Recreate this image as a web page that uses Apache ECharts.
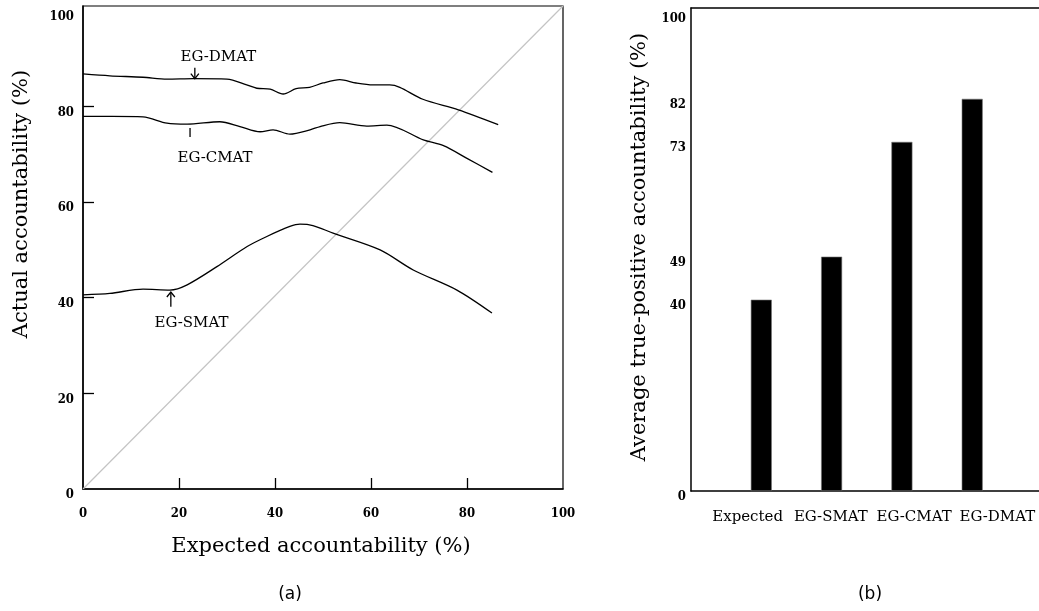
<!DOCTYPE html>
<html>
<head>
<meta charset="utf-8">
<script src="https://cdn.jsdelivr.net/npm/echarts@6/dist/echarts.min.js"></script>
<style>
html,body{margin:0;padding:0;background:#fff;}
#main{width:1039px;height:611px;}
</style>
</head>
<body>
<div id="main"></div>
<script>
// ---------- Data: chart (a) ----------
const aXTicks = [0, 20, 40, 60, 80, 100];
const aYTicks = [0, 20, 40, 60, 80, 100];
const dmatX = [0, 5.6, 12.5, 17.5, 23, 30, 34.1, 36.2, 39, 41.7, 44.4, 47.2, 50, 53.5, 56.9, 60.4, 63.9, 66, 70.8, 78.2, 86.5];
const dmatY = [86.8, 86.4, 86.1, 85.7, 85.8, 85.7, 84.5, 83.8, 83.6, 82.6, 83.7, 84.0, 84.9, 85.6, 84.9, 84.5, 84.5, 84.0, 81.5, 79.3, 76.2];
const cmatX = [0, 6, 12.5, 17.5, 21.7, 28.5, 32.7, 36.9, 39.6, 43.1, 47.3, 49.4, 53.5, 59.1, 63.3, 70.9, 75.1, 79.9, 85.3];
const cmatY = [77.9, 77.9, 77.8, 76.5, 76.3, 76.8, 75.8, 74.7, 75.1, 74.2, 75.1, 75.8, 76.6, 75.9, 76.1, 73.0, 71.8, 69.2, 66.2];
const smatX = [0, 5.6, 12.5, 18.1, 21.7, 27.9, 34.2, 38.3, 43.1, 45.2, 47.9, 52.1, 61.9, 68.8, 77.9, 85.2];
const smatY = [40.6, 40.9, 41.8, 41.6, 42.7, 46.5, 50.7, 52.8, 54.9, 55.4, 55.1, 53.5, 50.0, 45.8, 41.6, 36.8];
const aLabels = ['EG-DMAT', 'EG-CMAT', 'EG-SMAT'];
const aLabelAt = [[28.2, 90.4], [27.5, 69.2], [22.6, 34.7]];
const aPointerX = [23.3, 22.3, 18.3];
const aPointerFrom = [88.1, 75.5, 38.1];
const aPointerTo = [85.8, 73.6, 41.2];
const aPointerHead = [true, false, true];

// ---------- Data: chart (b) ----------
const bCategories = ['Expected', 'EG-SMAT', 'EG-CMAT', 'EG-DMAT'];
const bValues = [40, 49, 73, 82];
const bYTicks = [0, 40, 49, 73, 82, 100];

const AX_MIN = 0, AX_MAX = 100, AY_MIN = 0, AY_MAX = 101;

function zip(xs, ys) { return xs.map((x, i) => [x, ys[i]]); }

const serif = 'DejaVu Serif';
const tickFamily = "'DejaVu Serif Condensed', 'DejaVu Serif', serif";
const tickFont = { fontFamily: tickFamily, fontWeight: 'bold', fontSize: 13, color: '#000' };

const chart = echarts.init(document.getElementById('main'), null, { renderer: 'canvas' });

const lineStyle = { color: '#000', width: 1.3 };

const option = {
  backgroundColor: '#fff',
  animation: false,
  grid: [
    { left: 83, top: 6, width: 480, height: 483, show: true, borderColor: '#000', borderWidth: 1.2, backgroundColor: 'transparent' },
    { left: 691, top: 8, right: 0, height: 483 },
    { left: 706, top: 8, right: 0, height: 483 }
  ],
  xAxis: [
    {
      gridIndex: 0, type: 'value', min: AX_MIN, max: AX_MAX,
      axisLine: { show: true, lineStyle: { color: '#000', width: 1.5 } },
      axisTick: { show: true, inside: true, length: 11, customValues: [20, 40, 60, 80], lineStyle: { color: '#000', width: 1.3 } },
      axisLabel: { customValues: aXTicks, margin: 18, ...tickFont },
      splitLine: { show: false }
    },
    {
      gridIndex: 1, type: 'value', min: 0, max: 4.95,
      axisLine: { show: true, lineStyle: { color: '#000', width: 1.5 } },
      axisTick: { show: false }, axisLabel: { show: false }, splitLine: { show: false }
    },
    {
      gridIndex: 1, type: 'value', position: 'top', min: 0, max: 4.95,
      axisLine: { show: true, lineStyle: { color: '#000', width: 1.5 } },
      axisTick: { show: false }, axisLabel: { show: false }, splitLine: { show: false }
    },
    {
      gridIndex: 2, type: 'category', data: bCategories,
      axisLine: { show: false }, axisTick: { show: false }, splitLine: { show: false },
      axisLabel: { margin: 19, fontFamily: serif, fontSize: 15, color: '#000', interval: 0 }
    }
  ],
  yAxis: [
    {
      gridIndex: 0, type: 'value', min: AY_MIN, max: AY_MAX,
      axisLine: { show: true, lineStyle: { color: '#000', width: 1.5 } },
      axisTick: { show: true, inside: true, length: 11, customValues: [20, 40, 60, 80], lineStyle: { color: '#000', width: 1.3 } },
      axisLabel: { customValues: aYTicks, margin: 9, verticalAlign: 'top', lineHeight: 12, ...tickFont },
      splitLine: { show: false }
    },
    {
      gridIndex: 1, type: 'value', min: 0, max: 101,
      axisLine: { show: true, lineStyle: { color: '#000', width: 1.5 } },
      axisTick: { show: false },
      axisLabel: { customValues: bYTicks, margin: 5, verticalAlign: 'top', lineHeight: 12, ...tickFont },
      splitLine: { show: false }
    },
    { gridIndex: 2, type: 'value', show: false }
  ],
  series: [
    {
      type: 'line', xAxisIndex: 0, yAxisIndex: 0, silent: true,
      data: [[AX_MIN, AY_MIN], [AX_MAX, AY_MAX]], symbol: 'none',
      lineStyle: { color: '#c4c4c4', width: 1.2 }
    },
    { name: 'EG-DMAT', type: 'line', xAxisIndex: 0, yAxisIndex: 0, data: zip(dmatX, dmatY), smooth: 0.3, symbol: 'none', lineStyle },
    { name: 'EG-CMAT', type: 'line', xAxisIndex: 0, yAxisIndex: 0, data: zip(cmatX, cmatY), smooth: 0.3, symbol: 'none', lineStyle },
    { name: 'EG-SMAT', type: 'line', xAxisIndex: 0, yAxisIndex: 0, data: zip(smatX, smatY), smooth: 0.3, symbol: 'none', lineStyle },
    {
      type: 'bar', xAxisIndex: 1, yAxisIndex: 1, barWidth: 21,
      data: bValues.map((v, i) => [i + 1, v]),
      itemStyle: { color: '#000', borderColor: '#777', borderWidth: 0.6 }
    }
  ]
};
chart.setOption(option);

// ---------- Titles and annotations ----------
const g = [];
const titleStyle = { fontFamily: serif, fontSize: 21, fill: '#000' };
g.push({ type: 'text', x: 22, y: 204, rotation: Math.PI / 2, style: { text: 'Actual accountability (%)', ...titleStyle, align: 'center', verticalAlign: 'middle' } });
g.push({ type: 'text', x: 321, y: 547, style: { text: 'Expected accountability (%)', ...titleStyle, align: 'center', verticalAlign: 'middle' } });
g.push({ type: 'text', x: 640, y: 247, rotation: Math.PI / 2, style: { text: 'Average true-positive accountability (%)', ...titleStyle, align: 'center', verticalAlign: 'middle' } });
g.push({ type: 'text', x: 290, y: 595, style: { text: '(a)', fontFamily: 'DejaVu Sans', fontSize: 17, fill: '#000', align: 'center', verticalAlign: 'middle' } });
g.push({ type: 'text', x: 870, y: 595, style: { text: '(b)', fontFamily: 'DejaVu Sans', fontSize: 17, fill: '#000', align: 'center', verticalAlign: 'middle' } });

aLabels.forEach((t, i) => {
  const p = chart.convertToPixel({ gridIndex: 0 }, aLabelAt[i]);
  g.push({ type: 'text', x: p[0], y: p[1], style: { text: t, fontFamily: serif, fontSize: 15, fill: '#000', align: 'center', verticalAlign: 'middle' } });
  const a = chart.convertToPixel({ gridIndex: 0 }, [aPointerX[i], aPointerFrom[i]]);
  const b = chart.convertToPixel({ gridIndex: 0 }, [aPointerX[i], aPointerTo[i]]);
  g.push({ type: 'line', shape: { x1: a[0], y1: a[1], x2: b[0], y2: b[1] }, style: { stroke: '#000', lineWidth: 1.3 } });
  if (aPointerHead[i]) {
    const dir = b[1] > a[1] ? 1 : -1;
    g.push({ type: 'polyline', shape: { points: [[b[0] - 4, b[1] - dir * 5], [b[0], b[1]], [b[0] + 4, b[1] - dir * 5]] }, style: { stroke: '#000', lineWidth: 1.3, fill: null } });
  }
});
chart.setOption({ graphic: g });
</script>
</body>
</html>
